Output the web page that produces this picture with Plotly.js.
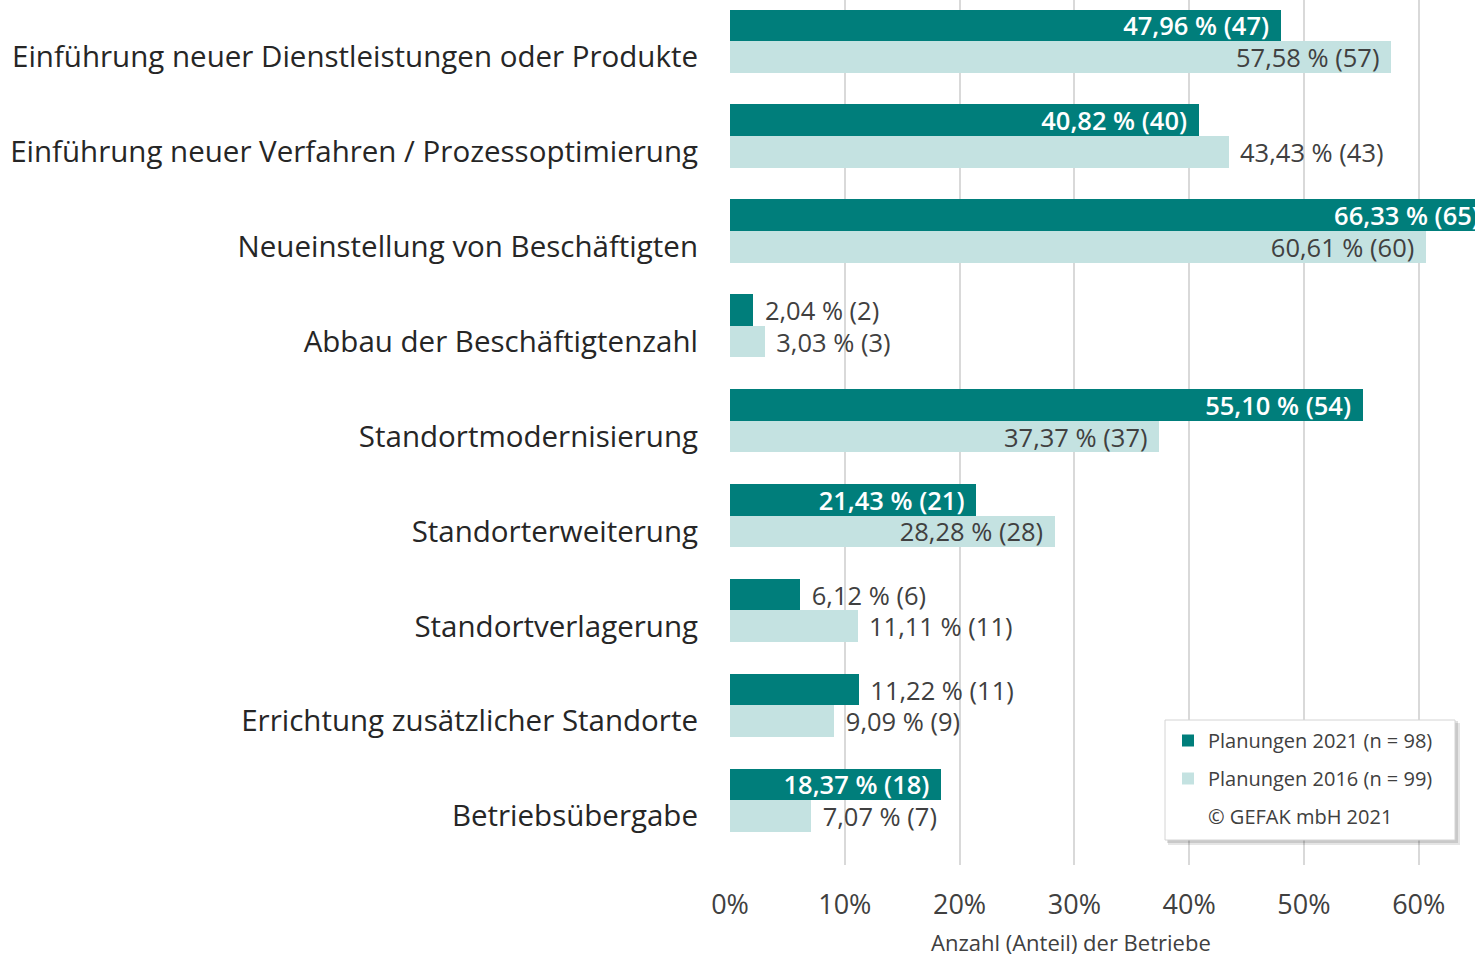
<!DOCTYPE html>
<html>
<head>
<meta charset="utf-8">
<script src="https://cdn.plot.ly/plotly-3.0.1.min.js"></script>
<style>html,body{margin:0;padding:0;background:#fff;}#chart{width:1475px;height:957px;}</style>
</head>
<body>
<div id="chart"></div>
<script>
const categories = [
  "Einführung neuer Dienstleistungen oder Produkte",
  "Einführung neuer Verfahren / Prozessoptimierung",
  "Neueinstellung von Beschäftigten",
  "Abbau der Beschäftigtenzahl",
  "Standortmodernisierung",
  "Standorterweiterung",
  "Standortverlagerung",
  "Errichtung zusätzlicher Standorte",
  "Betriebsübergabe"
];
const pct2021 = [47.96, 40.82, 66.33, 2.04, 55.10, 21.43, 6.12, 11.22, 18.37];
const count2021 = [47, 40, 65, 2, 54, 21, 6, 11, 18];
const pct2016 = [57.58, 43.43, 60.61, 3.03, 37.37, 28.28, 11.11, 9.09, 7.07];
const count2016 = [57, 43, 60, 3, 37, 28, 11, 9, 7];
const name2021 = "Planungen 2021 (n = 98)";
const name2016 = "Planungen 2016 (n = 99)";
const copyrightText = "© GEFAK mbH 2021";
const xTickVals = [0, 10, 20, 30, 40, 50, 60];
const xTickText = ["0%", "10%", "20%", "30%", "40%", "50%", "60%"];
const xAxisTitle = "Anzahl (Anteil) der Betriebe";

// label placement (as in the original figure)
const pos2021 = ["inside","inside","inside","outside","inside","inside","outside","outside","inside"];
const pos2016 = ["inside","outside","inside","outside","inside","inside","outside","outside","outside"];

function fmt(p, n, pos) {
  const s = p.toFixed(2).replace('.', ',') + ' % (' + n + ')';
  return pos === 'outside' ? '\u2004' + s : s + '\u2004';
}

const FONT = "'Open Sans', sans-serif";
const DARK = "#007e7b";
const LIGHT = "#c4e2e1";
const TXT = "#404040";
const LBLSIZE = 25.5;

const traces = [
  {
    type: 'bar', orientation: 'h', name: name2021,
    y: categories, x: pct2021,
    text: pct2021.map((p, i) => fmt(p, count2021[i], pos2021[i])),
    textposition: pos2021, insidetextanchor: 'end', textangle: 0,
    insidetextfont: {family: FONT, size: LBLSIZE, color: '#ffffff', weight: 600},
    outsidetextfont: {family: FONT, size: LBLSIZE, color: TXT},
    marker: {color: DARK}, cliponaxis: true,
    legendgroup: 'a', hoverinfo: 'skip'
  },
  {
    type: 'bar', orientation: 'h', name: name2016,
    y: categories, x: pct2016,
    text: pct2016.map((p, i) => fmt(p, count2016[i], pos2016[i])),
    textposition: pos2016, insidetextanchor: 'end', textangle: 0,
    insidetextfont: {family: FONT, size: LBLSIZE, color: TXT},
    outsidetextfont: {family: FONT, size: LBLSIZE, color: TXT},
    marker: {color: LIGHT}, cliponaxis: true,
    legendgroup: 'b', hoverinfo: 'skip'
  },
  {
    type: 'bar', orientation: 'h', name: copyrightText,
    y: categories, x: categories.map(() => null),
    marker: {color: 'rgba(0,0,0,0)'},
    legendgroup: 'c', hoverinfo: 'skip', showlegend: true
  }
];

const W = 745, H = 865, L = 730;
const px = v => (v - L) / W;
const py = v => (H - v) / H;

const layout = {
  width: 1475, height: 957,
  margin: {l: L, r: 0, t: 0, b: 957 - H, pad: 0},
  paper_bgcolor: '#fff', plot_bgcolor: '#fff',
  barmode: 'group', bargap: 0.0, bargroupgap: 0,
  uniformtext: {mode: 'show', minsize: LBLSIZE},
  font: {family: FONT, color: TXT},
  showlegend: true,
  legend: {
    x: px(1168), y: py(721), xanchor: 'left', yanchor: 'top',
    bgcolor: 'rgba(0,0,0,0)', borderwidth: 0,
    font: {family: FONT, size: 20, color: TXT},
    traceorder: 'grouped', tracegroupgap: 9,
    itemwidth: 30
  },
  xaxis: {
    range: [0, 64.9], tickvals: xTickVals, ticktext: xTickText,
    showgrid: true, gridcolor: '#d9d9d9', gridwidth: 2,
    zeroline: false, showline: false, ticks: '',
    ticklabelstandoff: 21,
    tickfont: {family: FONT, size: 27, color: TXT},
    fixedrange: true
  },
  yaxis: {
    type: 'category', range: [8.516, -0.601],
    showgrid: false, zeroline: false, showline: false, ticks: '',
    ticklabelstandoff: 31,
    tickfont: {family: FONT, size: 29.5, color: '#262626'},
    fixedrange: true
  },
  annotations: [
    {text: xAxisTitle, xref: 'paper', yref: 'paper', x: px(1071), y: py(942),
     xanchor: 'center', yanchor: 'middle', showarrow: false,
     font: {family: FONT, size: 22, color: TXT}}
  ],
  shapes: [
    {type: 'rect', xref: 'paper', yref: 'paper', layer: 'above',
     x0: px(1168), x1: px(1460), y0: py(845), y1: py(723),
     fillcolor: 'rgba(0,0,0,0.10)', line: {width: 0}},
    {type: 'rect', xref: 'paper', yref: 'paper', layer: 'above',
     x0: px(1167), x1: px(1458), y0: py(843), y1: py(721),
     fillcolor: 'rgba(0,0,0,0.12)', line: {width: 0}},
    {type: 'rect', xref: 'paper', yref: 'paper', layer: 'above',
     x0: px(1165), x1: px(1455), y0: py(840), y1: py(720),
     fillcolor: '#ffffff', line: {color: '#d4d4d4', width: 1}}
  ]
};

Plotly.newPlot('chart', traces, layout, {displayModeBar: false, staticPlot: true});
</script>
</body>
</html>
